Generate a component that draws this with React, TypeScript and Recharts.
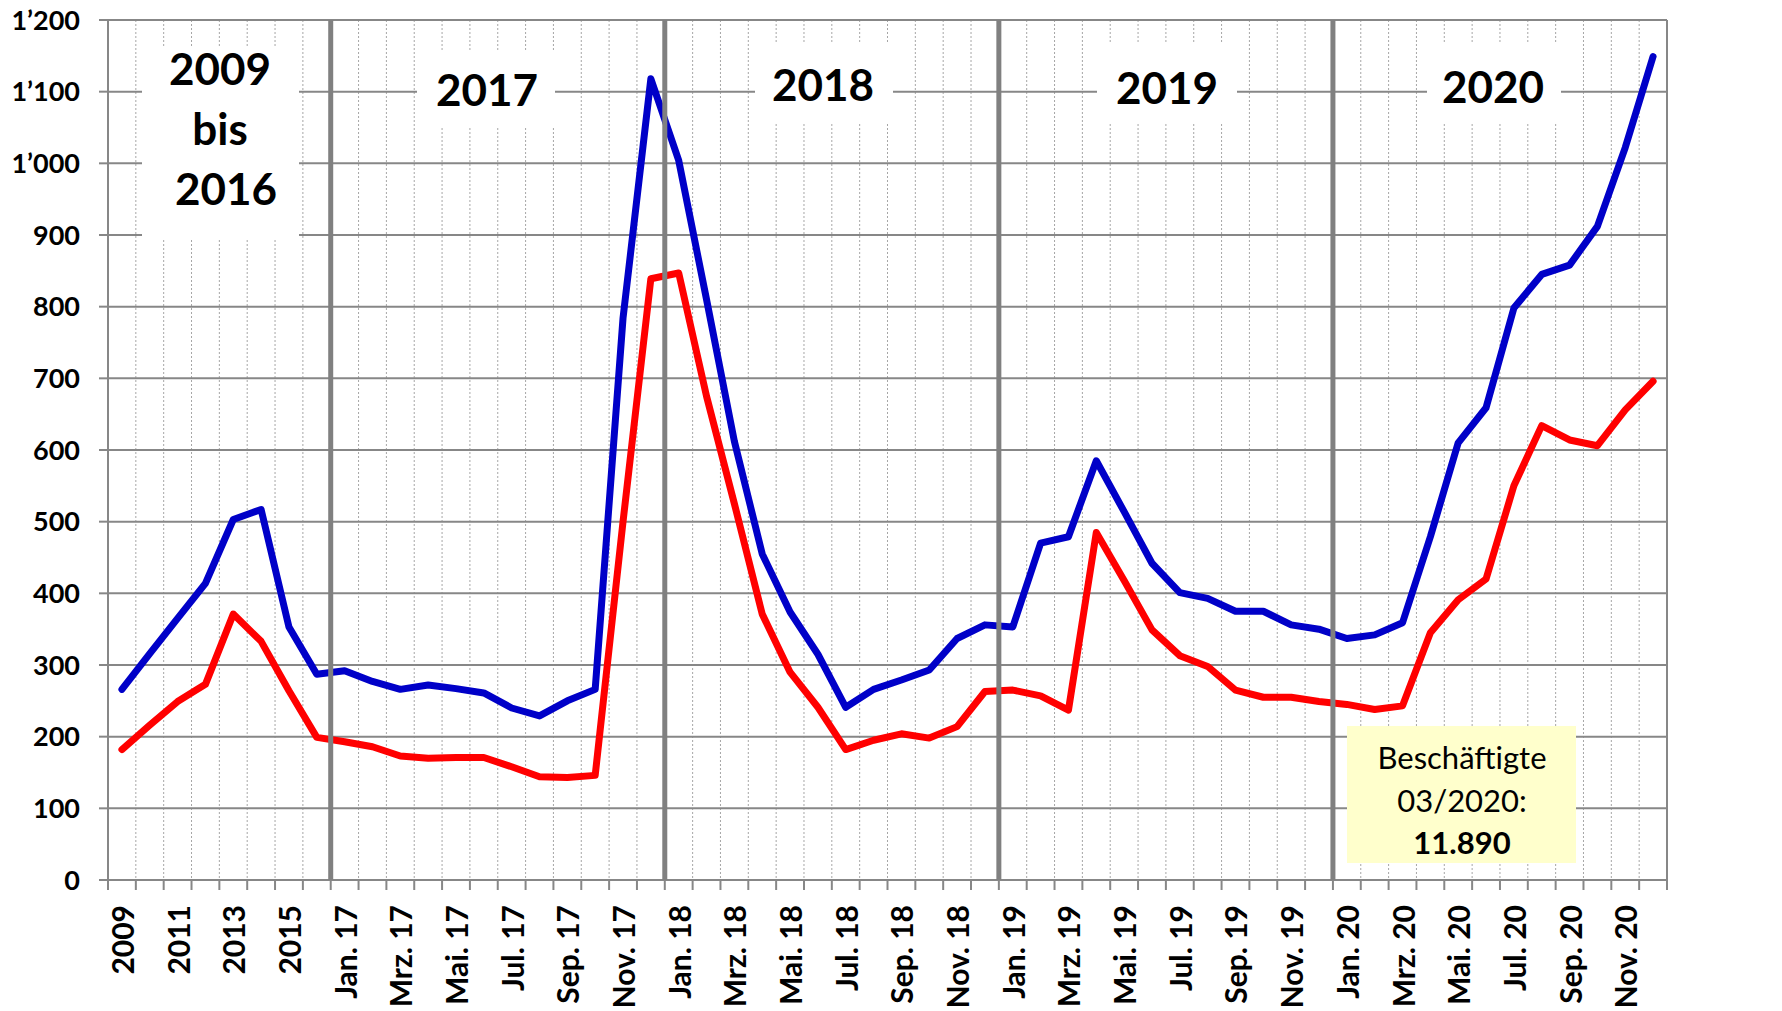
import { CartesianGrid, Line, LineChart, ReferenceLine, XAxis, YAxis } from 'recharts';

// x categories: annual values 2009-2016, then monthly 2017-2020
const categories = [
  '2009', '2010', '2011', '2012', '2013', '2014', '2015', '2016',
  'Jan. 17', 'Feb. 17', 'Mrz. 17', 'Apr. 17', 'Mai. 17', 'Jun. 17', 'Jul. 17', 'Aug. 17', 'Sep. 17', 'Okt. 17', 'Nov. 17', 'Dez. 17',
  'Jan. 18', 'Feb. 18', 'Mrz. 18', 'Apr. 18', 'Mai. 18', 'Jun. 18', 'Jul. 18', 'Aug. 18', 'Sep. 18', 'Okt. 18', 'Nov. 18', 'Dez. 18',
  'Jan. 19', 'Feb. 19', 'Mrz. 19', 'Apr. 19', 'Mai. 19', 'Jun. 19', 'Jul. 19', 'Aug. 19', 'Sep. 19', 'Okt. 19', 'Nov. 19', 'Dez. 19',
  'Jan. 20', 'Feb. 20', 'Mrz. 20', 'Apr. 20', 'Mai. 20', 'Jun. 20', 'Jul. 20', 'Aug. 20', 'Sep. 20', 'Okt. 20', 'Nov. 20', 'Dez. 20',
];

const blueValues = [
  266, 316, 365, 414, 503, 517, 353, 287,
  292, 277, 266, 272, 267, 261, 240, 229, 250, 266, 784, 1118,
  1004, 810, 612, 455, 374, 315, 241, 266, 279, 293, 337, 356,
  353, 470, 479, 585, 514, 442, 401, 393, 375, 375, 356, 350,
  337, 342, 359, 479, 610, 659, 798, 845, 858, 912, 1022, 1149,
];

const redValues = [
  182, 216, 249, 273, 371, 333, 264, 199,
  193, 186, 173, 170, 171, 171, 158, 144, 143, 146, 500, 839,
  847, 675, 525, 371, 290, 241, 182, 195, 204, 198, 214, 263,
  265, 257, 237, 485, 418, 349, 313, 298, 265, 255, 255, 249,
  245, 238, 243, 345, 391, 420, 550, 634, 614, 606, 656, 696,
];

const yTicks = [0, 100, 200, 300, 400, 500, 600, 700, 800, 900, 1000, 1100, 1200];
// category boundaries where a new period starts (2017, 2018, 2019, 2020)
const yearBreaks = [8, 20, 32, 44];

const GRID = '#878787';
const n = categories.length;

const data = categories.map((c, i) => ({ x: i + 0.5, label: c, blue: blueValues[i], red: redValues[i] }));
const boundaries = Array.from({ length: n + 1 }, (_, i) => i);
const innerBoundaries = boundaries.filter((b) => b > 0 && b < n && !yearBreaks.includes(b));
const labelTicks = categories.map((_, i) => i).filter((i) => i % 2 === 0).map((i) => i + 0.5);
const xTicks = [...boundaries, ...labelTicks].sort((a, b) => a - b);

const fmt = (v: number) => (v >= 1000 ? `${Math.floor(v / 1000)}’${String(v % 1000).padStart(3, '0')}` : String(v));

function XTick({ x, y, payload }: any) {
  const v = payload.value as number;
  if (Number.isInteger(v)) {
    return <line x1={x} y1={y} x2={x} y2={y + 10} stroke={GRID} strokeWidth={2} />;
  }
  const ty = y + 25;
  return (
    <text
      x={x}
      y={ty}
      transform={`rotate(-90, ${x}, ${ty})`}
      textAnchor="end"
      dominantBaseline="central"
      fontSize={30}
      fontWeight={700}
      fill="#000"
    >
      {categories[Math.floor(v)]}
    </text>
  );
}

function YearBox({ x, y, w, h, lines, cx, cy }: { x: number; y: number; w: number; h: number; lines: string[]; cx: number[]; cy: number[] }) {
  return (
    <g>
      <rect x={x} y={y} width={w} height={h} fill="#fff" />
      {lines.map((t, i) => (
        <text key={i} x={cx[i]} y={cy[i]} textAnchor="middle" dominantBaseline="central" fontSize={44} fontWeight={700} fill="#000">
          {t}
        </text>
      ))}
    </g>
  );
}

export default function App() {
  return (
    <div style={{ position: 'absolute', left: 0, top: 0, width: 1782, height: 1011, background: '#fff', fontFamily: 'Lato, sans-serif' }}>
      <LineChart width={1782} height={1011} data={data} margin={{ top: 20, right: 0, bottom: 0, left: 0 }}>
        <CartesianGrid yAxisId="left" horizontal={false} verticalValues={innerBoundaries} stroke="#a6a6a6" strokeWidth={1} strokeDasharray="2 2" />
        <CartesianGrid yAxisId="left" vertical={false} stroke={GRID} strokeWidth={2} />
        <XAxis
          type="number"
          dataKey="x"
          domain={[0, n]}
          ticks={xTicks}
          interval={0}
          height={131}
          tickSize={0}
          tickMargin={0}
          tickLine={false}
          axisLine={{ stroke: GRID, strokeWidth: 2 }}
          tick={XTick}
        />
        <YAxis
          yAxisId="left"
          domain={[0, 1200]}
          ticks={yTicks}
          interval={0}
          width={108}
          tickSize={9}
          tickMargin={19}
          tickFormatter={fmt}
          tick={{ fill: '#000', fontSize: 27, fontWeight: 700 }}
          tickLine={{ stroke: GRID, strokeWidth: 2 }}
          axisLine={{ stroke: GRID, strokeWidth: 2 }}
        />
        <YAxis
          yAxisId="right"
          orientation="right"
          domain={[0, 1200]}
          ticks={yTicks}
          interval={0}
          width={115}
          tickSize={9}
          tickMargin={20}
          tickFormatter={fmt}
          tick={{ fill: '#000', fontSize: 27, fontWeight: 700 }}
          tickLine={{ stroke: GRID, strokeWidth: 2 }}
          axisLine={{ stroke: GRID, strokeWidth: 2 }}
        />
        <Line yAxisId="left" type="linear" dataKey="blue" stroke="#0000C8" strokeWidth={7} strokeLinejoin="round" strokeLinecap="round" dot={false} isAnimationActive={false} />
        <Line yAxisId="left" type="linear" dataKey="red" stroke="#FF0000" strokeWidth={7} strokeLinejoin="round" strokeLinecap="round" dot={false} isAnimationActive={false} />
        {yearBreaks.map((b) => (
          <ReferenceLine key={b} x={b} yAxisId="left" stroke="#808080" strokeWidth={5} zIndex={1000} />
        ))}
      </LineChart>
      <svg width={1782} height={1011} style={{ position: 'absolute', left: 0, top: 0, pointerEvents: 'none' }}>
        <YearBox x={142} y={48} w={157} h={190} lines={['2009', 'bis', '2016']} cx={[220, 220, 226]} cy={[68, 128, 188]} />
        <YearBox x={417} y={50} w={138} h={77} lines={['2017']} cx={[487]} cy={[89]} />
        <YearBox x={755} y={43} w={138} h={79} lines={['2018']} cx={[823]} cy={[84]} />
        <YearBox x={1097} y={43} w={140} h={80} lines={['2019']} cx={[1167]} cy={[87]} />
        <YearBox x={1427} y={43} w={134} h={80} lines={['2020']} cx={[1493]} cy={[86]} />
        <rect x={1347} y={726} width={229} height={137} fill="#FFFFCC" />
        <text x={1462} y={757} textAnchor="middle" dominantBaseline="central" fontSize={31} fill="#000">Beschäftigte</text>
        <text x={1462} y={800} textAnchor="middle" dominantBaseline="central" fontSize={31} fill="#000">03/2020:</text>
        <text x={1462} y={842} textAnchor="middle" dominantBaseline="central" fontSize={31} fontWeight={700} fill="#000">11.890</text>
      </svg>
    </div>
  );
}
